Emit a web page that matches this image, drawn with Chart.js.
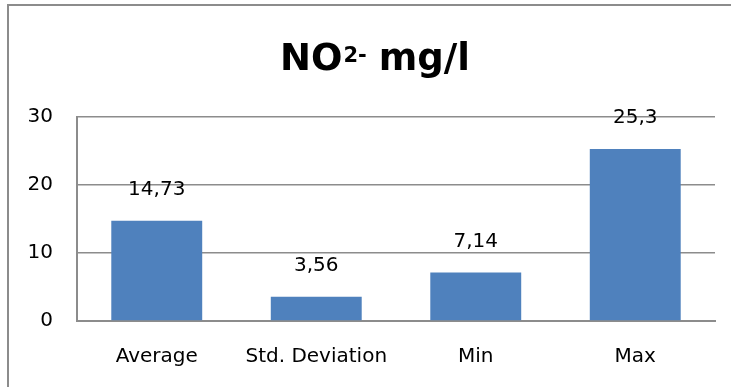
<!DOCTYPE html>
<html>
<head>
<meta charset="utf-8">
<script src="https://cdn.jsdelivr.net/npm/chart.js@4.4.0/dist/chart.umd.min.js"></script>
<style>
  html, body { margin: 0; padding: 0; background: #fff; overflow: hidden; }
  #frame { position: absolute; left: 7px; top: 4px; width: 740px; height: 400px; border: 2px solid #8c8c8c; box-sizing: border-box; }
  #wrap { position: absolute; left: 0; top: 0; width: 731px; height: 387px; }
</style>
</head>
<body>
<div id="frame"></div>
<div id="wrap"><canvas id="chart" width="731" height="387"></canvas></div>
<script>
const categories = ['Average', 'Std. Deviation', 'Min', 'Max'];
const values = [14.73, 3.56, 7.14, 25.3];
const yTicks = [0, 10, 20, 30];

const FONT = '"DejaVu Sans", sans-serif';
const ctx = document.getElementById('chart').getContext('2d');

// title with superscript, drawn by hand
const titlePlugin = {
    id: 'titleSup',
    afterDraw(chart) {
        const c = chart.ctx;
        c.save();
        c.fillStyle = '#000';
        c.textBaseline = 'alphabetic';
        const big = 'bold 37px ' + FONT;
        const small = 'bold 21px ' + FONT;
        c.font = big;
        const w1 = c.measureText('NO').width;
        const w3 = c.measureText(' mg/l').width;
        c.font = small;
        const w2 = c.measureText('2-').width;
        let x = 375 - (w1 + w2 + w3) / 2;
        c.textAlign = 'left';
        c.font = big;
        c.fillText('NO', x, 70);
        x += w1;
        c.font = small;
        c.fillText('2-', x + 1, 62);
        x += w2;
        c.font = big;
        c.fillText(' mg/l', x, 70);
        c.restore();
    }
};

// value labels above each bar
const labelPlugin = {
    id: 'valueLabels',
    afterDatasetsDraw(chart) {
        const c = chart.ctx;
        c.save();
        c.font = '20px ' + FONT;
        c.fillStyle = '#000';
        c.textAlign = 'center';
        c.textBaseline = 'middle';
        chart.getDatasetMeta(0).data.forEach((bar, i) => {
            c.fillText(String(values[i]).replace('.', ','), bar.x, bar.y - 31);
        });
        c.restore();
    }
};

new Chart(ctx, {
    type: 'bar',
    data: {
        labels: categories,
        datasets: [{
            data: values,
            backgroundColor: '#4f81bd',
            borderColor: '#5a8ac4',
            borderWidth: 0,
            categoryPercentage: 1,
            barPercentage: 0.57
        }]
    },
    options: {
        responsive: false,
        animation: false,
        events: [],
        layout: { padding: { left: 0, right: 16, top: 117, bottom: 0 } },
        plugins: {
            legend: { display: false },
            title: { display: false },
            tooltip: { enabled: false }
        },
        scales: {
            x: {
                grid: { display: false, drawTicks: false },
                border: { display: true, color: '#8c8c8c', width: 2 },
                ticks: { color: '#000', font: { family: FONT, size: 20 }, padding: 24, maxRotation: 0 },
                afterFit(scale) { scale.height = 66; }
            },
            y: {
                min: 0,
                max: 30,
                afterBuildTicks(scale) { scale.ticks = yTicks.map(v => ({ value: v })); },
                grid: { color: '#8c8c8c', lineWidth: 1.5, drawTicks: false },
                border: { display: true, color: '#8c8c8c', width: 2 },
                ticks: { color: '#000', font: { family: FONT, size: 20 }, padding: 24 },
                afterFit(scale) { scale.width = 77; }
            }
        }
    },
    plugins: [titlePlugin, labelPlugin]
});
</script>
</body>
</html>
